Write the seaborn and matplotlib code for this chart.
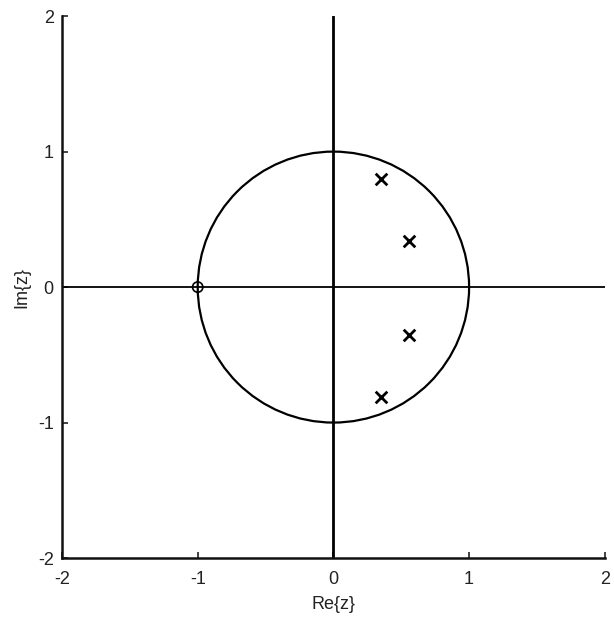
import numpy as np
import pandas as pd
import matplotlib
matplotlib.use("Agg")
import matplotlib.pyplot as plt
import seaborn as sns
from matplotlib.patches import Circle

pole_re = [0.35, 0.56, 0.56, 0.35]
pole_im = [0.80, 0.34, -0.35, -0.81]
zero_re = [-1.0]
zero_im = [0.0]
ticks = [-2, -1, 0, 1, 2]

sns.set_style("white")
plt.rcParams['font.family'] = ['Liberation Sans', 'DejaVu Sans']

fig = plt.figure(figsize=(6.14, 6.21), dpi=100)
ax = fig.add_axes([0.101, 0.1014, 0.884, 0.8726])

ax.axhline(0, color='black', lw=1.3, zorder=1)
ax.axvline(0, color='black', lw=2.0, zorder=1)
ax.add_patch(Circle((0, 0), 1.0, fill=False, ec='black', lw=1.6, zorder=2))

poles = pd.DataFrame({"re": pole_re, "im": pole_im})
zeros = pd.DataFrame({"re": zero_re, "im": zero_im})
sns.scatterplot(data=poles, x="re", y="im", marker='x', s=70, color='black',
                linewidth=2.0, ax=ax, zorder=3)
sns.scatterplot(data=zeros, x="re", y="im", marker='o', s=55, facecolor='none',
                edgecolor='black', linewidth=1.2, ax=ax, zorder=3)

ax.set_xlim(-2, 2)
ax.set_ylim(-2, 2)
ax.set_xticks(ticks)
ax.set_yticks(ticks)
ax.set_xticklabels([str(t) for t in ticks])
ax.set_yticklabels([str(t) for t in ticks])
ax.tick_params(direction='in', length=4, width=1.2, labelsize=13, colors='#222222',
               bottom=True, left=True)
ax.tick_params(axis='x', pad=9)
ax.tick_params(axis='y', pad=6)
for s in ['top', 'right']:
    ax.spines[s].set_visible(False)
for s in ['left', 'bottom']:
    ax.spines[s].set_color('#111111')
    ax.spines[s].set_linewidth(1.8)
ax.set_xlabel("Re{z}", fontsize=13, labelpad=6, color='#222222')
ax.set_ylabel("Im{z}", fontsize=13, labelpad=5, color='#222222')

fig.savefig("out.png", dpi=100, facecolor='white')
